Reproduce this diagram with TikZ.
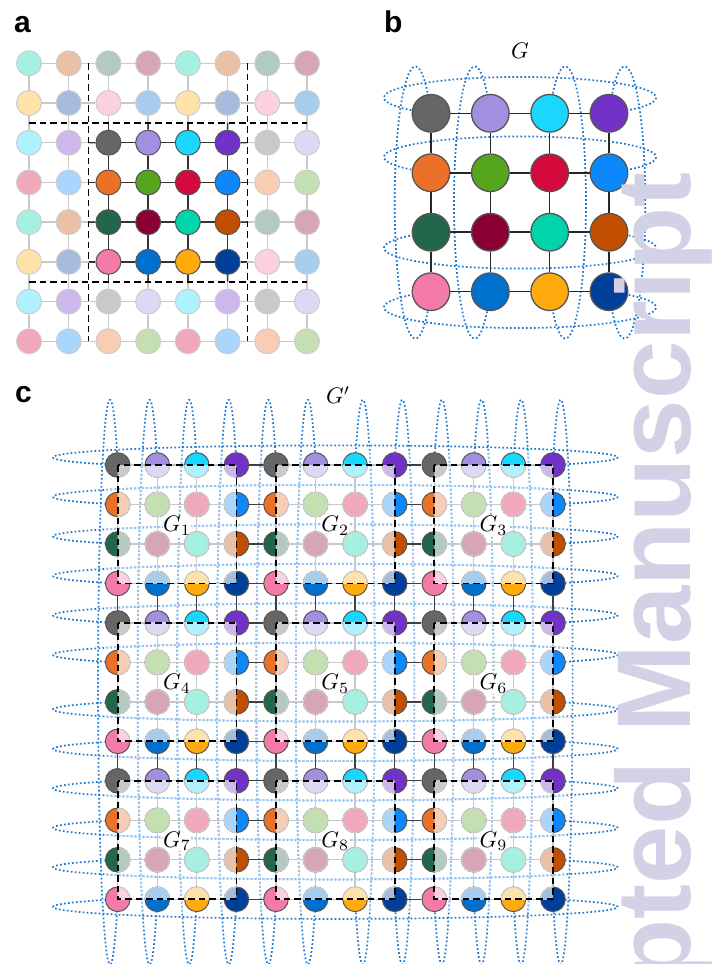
\RequirePackage{fix-cm}
\documentclass[tikz,border=0pt]{standalone}
\usepackage{fontspec}
\newfontfamily\lsans{Liberation Sans}
\usetikzlibrary{calc}
\definecolor{g00}{HTML}{666666}\definecolor{g01}{HTML}{A38FE0}
\definecolor{g02}{HTML}{1AD7FF}\definecolor{g03}{HTML}{7232C8}
\definecolor{g10}{HTML}{EB7028}\definecolor{g11}{HTML}{56A51F}
\definecolor{g12}{HTML}{D50A3C}\definecolor{g13}{HTML}{0D88FA}
\definecolor{g20}{HTML}{23674A}\definecolor{g21}{HTML}{8A0035}
\definecolor{g22}{HTML}{00D4AA}\definecolor{g23}{HTML}{C24F00}
\definecolor{g30}{HTML}{F47AA8}\definecolor{g31}{HTML}{0070CF}
\definecolor{g32}{HTML}{FFAA0D}\definecolor{g33}{HTML}{003F9A}
\colorlet{p00}{g00!35!white}\colorlet{p01}{g01!35!white}
\colorlet{p02}{g02!35!white}\colorlet{p03}{g03!35!white}
\colorlet{p10}{g10!35!white}\colorlet{p11}{g11!35!white}
\colorlet{p12}{g12!35!white}\colorlet{p13}{g13!35!white}
\colorlet{p20}{g20!35!white}\colorlet{p21}{g21!35!white}
\colorlet{p22}{g22!35!white}\colorlet{p23}{g23!35!white}
\colorlet{p30}{g30!35!white}\colorlet{p31}{g31!35!white}
\colorlet{p32}{g32!35!white}\colorlet{p33}{g33!35!white}
\definecolor{dotblue}{HTML}{1A78D2}
\definecolor{dotlight}{HTML}{A2C9F0}
\definecolor{wm}{HTML}{D3D1E6}
\definecolor{edgegray}{HTML}{C8C8C8}
\definecolor{edgedark}{HTML}{333333}
\definecolor{rimdark}{HTML}{555555}
\definecolor{rimpale}{HTML}{CDCDCD}
\newcommand\cloops{%
\foreach \r in {0,...,5}{\pgfmathsetmacro\cy{465+39.48*\r-7.64}
 \draw plot[domain=140.44:399.56,samples=180,variable=\t] ({335.35+282.3*cos(\t)},{\cy+12*sin(\t)});}
\foreach \r in {6,...,11}{\pgfmathsetmacro\cy{465+39.48*\r+7.64}
 \draw plot[domain=-39.56:219.56,samples=180,variable=\t] ({335.35+282.3*cos(\t)},{\cy+12*sin(\t)});}
\foreach \s in {0,...,5}{\pgfmathsetmacro\cx{117.7+39.57*\s-7.67}
 \draw plot[domain=50.3:309.7,samples=180,variable=\t] ({\cx+12*cos(\t)},{682.15+282.3*sin(\t)});}
\foreach \s in {6,...,11}{\pgfmathsetmacro\cx{117.7+39.57*\s+7.67}
 \draw plot[domain=-129.7:129.7,samples=180,variable=\t] ({\cx+12*cos(\t)},{682.15+282.3*sin(\t)});}
}
\begin{document}
\begin{tikzpicture}[x=1pt,y=-1pt,
  dnode/.style={circle, inner sep=0pt, draw=rimdark, line width=1pt},
  pnode/.style={circle, inner sep=0pt, draw=rimpale, line width=1pt},
  gedge/.style={draw=edgegray, line width=1.5pt},
  dedge/.style={draw=edgedark, line width=1.4pt},
  bluedots/.style={line width=1.7pt, dash pattern=on 1.7pt off 2.3pt},
  dashbox/.style={draw=black, line width=1.8pt, dash pattern=on 6.5pt off 4pt},
  glabel/.style={inner sep=0.5pt},
  plabel/.style={anchor=base west, inner sep=0pt, font=\lsans\bfseries\fontsize{30}{30}\selectfont}]
\useasboundingbox (0,0) rectangle (719,964);
\fill[white] (0,0) rectangle (719,964);

% ---------- panel b loops ----------
\begin{scope}[bluedots, dotblue]
\foreach \r in {0,1}{\pgfmathsetmacro\cy{113.3+59.47*\r-15.65}
 \draw plot[domain=130.87:409.13,samples=160,variable=\t] ({520+136*cos(\t)},{\cy+20.7*sin(\t)});}
\foreach \r in {2,3}{\pgfmathsetmacro\cy{113.3+59.47*\r+15.65}
 \draw plot[domain=-49.13:229.13,samples=160,variable=\t] ({520+136*cos(\t)},{\cy+20.7*sin(\t)});}
\foreach \s in {0,1}{\pgfmathsetmacro\cx{431+59.33*\s-15.62}
 \draw plot[domain=41:319,samples=160,variable=\t] ({\cx+20.7*cos(\t)},{202.5+136*sin(\t)});}
\foreach \s in {2,3}{\pgfmathsetmacro\cx{431+59.33*\s+15.62}
 \draw plot[domain=-139:139,samples=160,variable=\t] ({\cx+20.7*cos(\t)},{202.5+136*sin(\t)});}
\end{scope}

% ---------- panel c loops ----------
\begin{scope}[bluedots, dotblue]\cloops\end{scope}
\begin{scope}[bluedots, dotlight]
\clip (104,452) rectangle (567,912);
\cloops
\end{scope}

% ---------- panel c block labels ----------
\foreach \p in {0,1,2}{\foreach \q in {0,1,2}{
 \pgfmathtruncatemacro\kk{3*\p+\q+1}
 \pgfmathsetmacro\lx{117.7+39.57*(4*\q+1.5)}
 \pgfmathsetmacro\ly{465+39.48*(4*\p+1.5)+7.5}
 \node[glabel, anchor=base, fill=white] (gl\kk) at (\lx,\ly) {\scalebox{2.25}{$G_{\kk}$}};
}}

% ---------- panel a ----------
\foreach \i in {0,...,7}{\foreach \j in {0,...,7}{
 \pgfmathtruncatemacro\bi{mod(\i+2,4)}
 \pgfmathtruncatemacro\bj{mod(\j+2,4)}
 \pgfmathtruncatemacro\inn{and(and(\i>1,\i<6),and(\j>1,\j<6))}
 \pgfmathsetmacro\xx{29+39.71*\j}
 \pgfmathsetmacro\yy{63.3+39.71*\i}
 \ifnum\inn=1
  \node[dnode, minimum size=25pt, fill=g\bi\bj] (a-\i-\j) at (\xx,\yy) {};
 \else
  \node[pnode, minimum size=25pt, fill=p\bi\bj] (a-\i-\j) at (\xx,\yy) {};
 \fi
}}
\foreach \i in {0,...,7}{\foreach \j in {0,...,6}{
 \pgfmathtruncatemacro\jn{\j+1}
 \draw[gedge] (a-\i-\j) -- (a-\i-\jn);
 \draw[gedge] (a-\j-\i) -- (a-\jn-\i);
}}
\foreach \i in {2,...,5}{
 \foreach \j in {2,3,4}{\pgfmathtruncatemacro\jn{\j+1}
  \draw[dedge] (a-\i-\j) -- (a-\i-\jn);
  \draw[dedge] (a-\j-\i) -- (a-\jn-\i);}
 \draw[dedge] (a-\i-2) -- ($(a-\i-2)!0.5!(a-\i-1)$);
 \draw[dedge] (a-\i-5) -- ($(a-\i-5)!0.5!(a-\i-6)$);
 \draw[dedge] (a-2-\i) -- ($(a-2-\i)!0.5!(a-1-\i)$);
 \draw[dedge] (a-5-\i) -- ($(a-5-\i)!0.5!(a-6-\i)$);
}
\draw[dashbox] ($(a-0-1)!0.5!(a-0-2)$) -- ($(a-7-1)!0.5!(a-7-2)$);
\draw[dashbox] ($(a-0-5)!0.5!(a-0-6)$) -- ($(a-7-5)!0.5!(a-7-6)$);
\draw[dashbox] ($(a-1-0)!0.5!(a-2-0)$) -- ($(a-1-7)!0.5!(a-2-7)$);
\draw[dashbox] ($(a-5-0)!0.5!(a-6-0)$) -- ($(a-5-7)!0.5!(a-6-7)$);

% ---------- panel b ----------
\foreach \i in {0,...,3}{\foreach \j in {0,...,3}{
 \node[dnode, minimum size=37.6pt, line width=1.3pt, fill=g\i\j] (b-\i-\j) at ({431+59.33*\j},{113.3+59.47*\i}) {};
}}
\foreach \i in {0,...,3}{\foreach \j in {0,1,2}{
 \pgfmathtruncatemacro\jn{\j+1}
 \draw[draw=black!85, line width=1.5pt] (b-\i-\j) -- (b-\i-\jn);
 \draw[draw=black!85, line width=1.5pt] (b-\j-\i) -- (b-\jn-\i);
}}

% ---------- panel c ----------
\foreach \i in {0,...,11}{\foreach \j in {0,...,11}{
 \pgfmathtruncatemacro\bi{mod(\i,4)}
 \pgfmathtruncatemacro\bj{mod(\j,4)}
 \node[dnode, minimum size=24.6pt, fill=g\bi\bj] (c-\i-\j) at ({117.7+39.57*\j},{465+39.48*\i}) {};
}}
\foreach \i in {0,...,11}{\foreach \j in {0,...,10}{
 \pgfmathtruncatemacro\jn{\j+1}
 \pgfmathtruncatemacro\crs{mod(\j,4)==3}
 \ifnum\crs=1
  \draw[draw=black!75, line width=1.3pt] (c-\i-\j) -- (c-\i-\jn);
  \draw[draw=black!75, line width=1.3pt] (c-\j-\i) -- (c-\jn-\i);
 \else
  \draw[draw=edgegray, line width=1.3pt] (c-\i-\j) -- (c-\i-\jn);
  \draw[draw=edgegray, line width=1.3pt] (c-\j-\i) -- (c-\jn-\i);
 \fi
}}
\foreach \p in {0,1,2}{\foreach \q in {0,1,2}{
 \pgfmathtruncatemacro\ia{4*\p}\pgfmathtruncatemacro\ib{4*\p+3}
 \pgfmathtruncatemacro\ja{4*\q}\pgfmathtruncatemacro\jb{4*\q+3}
 \begin{scope}
  \clip (c-\ia-\ja.center) rectangle (c-\ib-\jb.center);
  \foreach \u in {0,...,3}{\foreach \v in {0,...,3}{
   \pgfmathtruncatemacro\ii{\ia+\u}\pgfmathtruncatemacro\jj{\ja+\v}
   \filldraw[fill=p\u\v, draw=rimpale, line width=1pt] (c-\ii-\jj.center) circle[radius=12.3pt];
  }}
 \end{scope}
 \draw[dashbox] (c-\ia-\ja.center) rectangle (c-\ib-\jb.center);
}}

% ---------- labels ----------
\node[plabel] (la) at (14,32) {a};
\node[plabel] (lb) at (384,32) {b};
\node[plabel] (lc) at (15,402) {c};
\node[glabel, anchor=base west, inner sep=0pt] (lg) at (511,58.3) {\scalebox{2.25}{$G$}};
\node[glabel, anchor=base west, inner sep=0pt] (lgp) at (326,403.3) {\scalebox{2.25}{$G'$}};

% ---------- watermark ----------
\node[rotate=90, anchor=base east, inner sep=0pt, text=wm,
  font=\lsans\bfseries\fontsize{105}{105}\selectfont] (wmark) at (690,172) {Accepted Manuscript};
\end{tikzpicture}
\end{document}
